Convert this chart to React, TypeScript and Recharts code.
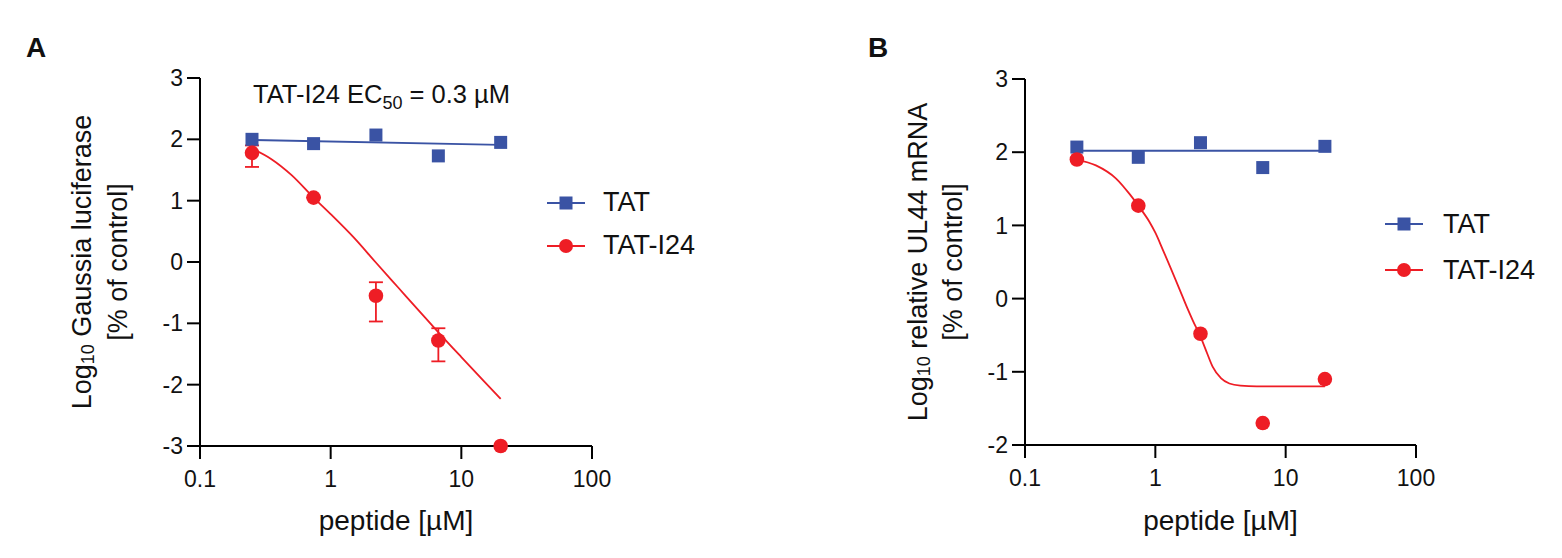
import { ComposedChart, XAxis, YAxis, Scatter, Line, ErrorBar, Legend, Label, Customized } from 'recharts';

const FONT = '"Liberation Sans", Arial, Helvetica, sans-serif';
const BLUE = '#3A53A4';
const RED = '#EE1D25';
const INK = '#111';

const seriesNames = ['TAT', 'TAT-I24'];
const seriesColors = [BLUE, RED];
const concentrations = [0.25, 0.74, 2.22, 6.67, 20];
const xTicks = [0.1, 1, 10, 100];
const yTicksA = [-3, -2, -1, 0, 1, 2, 3];
const yTicksB = [-2, -1, 0, 1, 2, 3];

// panel A - Gaussia luciferase
const tatA = [2.0, 1.93, 2.07, 1.73, 1.95];
const i24A = [1.78, 1.05, -0.55, -1.28, -3.0];
const i24AErrLow = [0.23, 0, 0.42, 0.34, 0];
const i24AErrHigh = [0.12, 0, 0.22, 0.2, 0];
const tatFitXA = [0.25, 20];
const tatFitYA = [1.99, 1.91];
const i24FitXA = [0.25, 0.35, 0.5, 0.74, 1, 1.5, 2.2, 3.3, 5, 6.7, 10, 15, 20];
const i24FitYA = [1.85, 1.68, 1.42, 1.05, 0.78, 0.4, 0.0, -0.42, -0.85, -1.15, -1.55, -1.95, -2.23];

// panel B - UL44 mRNA
const tatB = [2.07, 1.93, 2.13, 1.79, 2.08];
const i24B = [1.9, 1.27, -0.48, -1.7, -1.1];
const tatFitXB = [0.25, 20];
const tatFitYB = [2.02, 2.02];
const i24FitXB = [0.25, 0.35, 0.5, 0.64, 0.74, 0.9, 1.0, 1.14, 1.54, 1.75, 1.94, 2.22, 2.5, 2.75, 3.2, 3.7, 4.5, 6, 10, 20];
const i24FitYB = [1.9, 1.82, 1.64, 1.42, 1.27, 1.05, 0.9, 0.67, 0.12, -0.12, -0.3, -0.52, -0.75, -0.93, -1.09, -1.16, -1.19, -1.2, -1.2, -1.2];

const zip = (xs: number[], ys: number[]) => xs.map((x, i) => ({ x, y: ys[i] }));

const Square = (p: any) => <rect x={p.cx - 6.5} y={p.cy - 6.5} width={13} height={13} fill={BLUE} />;
const Dot = (p: any) => <circle cx={p.cx} cy={p.cy} r={7.3} fill={RED} />;

const LegendBox = ({ rowH, gap }: { rowH: number; gap: number }) => (
  <div style={{ fontFamily: FONT, fontSize: 27, color: INK }}>
    {seriesNames.map((name, i) => (
      <div key={name} style={{ display: 'flex', alignItems: 'center', height: rowH }}>
        <svg width={38} height={20} style={{ display: 'block' }}>
          <line x1={0} x2={38} y1={10} y2={10} stroke={seriesColors[i]} strokeWidth={2} />
          {i === 0 ? <rect x={12.5} y={3.5} width={13} height={13} fill={BLUE} /> : <circle cx={19} cy={10} r={7} fill={RED} />}
        </svg>
        <span style={{ marginLeft: gap }}>{name}</span>
      </div>
    ))}
  </div>
);

const YTitle = ({ viewBox, x1, x2, rest }: any) => {
  const cy = viewBox.y + viewBox.height / 2;
  return (
    <g fontFamily={FONT} fontSize={27} fill={INK}>
      <text x={x1} y={cy} textAnchor="middle" dominantBaseline="central" transform={`rotate(-90 ${x1} ${cy})`}>
        Log<tspan fontSize={18} dy={6}>10</tspan><tspan dy={-6}>{rest}</tspan>
      </text>
      <text x={x2} y={cy} textAnchor="middle" dominantBaseline="central" transform={`rotate(-90 ${x2} ${cy})`}>
        [% of control]
      </text>
    </g>
  );
};

const XTitle = ({ viewBox }: any) => (
  <text x={viewBox.x + viewBox.width / 2} y={530} textAnchor="middle" fontFamily={FONT} fontSize={28} fill={INK}>
    peptide [µM]
  </text>
);

const tickStyle = { fontFamily: FONT, fontSize: 23, fill: INK };

type PanelProps = {
  letter: string;
  letterX: number;
  yTicks: number[];
  margin: { top: number; right: number; bottom: number; left: number };
  tat: number[];
  i24: number[];
  errLow?: number[];
  errHigh?: number[];
  tatFit: { x: number; y: number }[];
  i24Fit: { x: number; y: number }[];
  titleX: [number, number];
  titleRest: string;
  legendPos: { left: number; top: number };
  legendRow: number;
  legendGap: number;
  note?: boolean;
};

const Panel = (p: PanelProps) => {
  const tatPts = zip(concentrations, p.tat);
  const i24Pts = concentrations.map((x, i) => ({
    x,
    y: p.i24[i],
    err: p.errLow && p.errHigh ? [p.errLow[i], p.errHigh[i]] : [0, 0],
  }));
  return (
    <ComposedChart width={781} height={558} margin={p.margin}>
      <XAxis
        dataKey="x"
        type="number"
        scale="log"
        domain={[0.1, 100]}
        ticks={xTicks}
        tickFormatter={(v) => String(v)}
        height={80}
        tickSize={13}
        tickMargin={12}
        axisLine={{ stroke: '#000', strokeWidth: 2 }}
        tickLine={{ stroke: '#000', strokeWidth: 2 }}
        tick={tickStyle}
      >
        <Label content={(lp: any) => <XTitle viewBox={lp.viewBox} />} />
      </XAxis>
      <YAxis
        dataKey="y"
        type="number"
        domain={[p.yTicks[0], p.yTicks[p.yTicks.length - 1]]}
        ticks={p.yTicks}
        width={80}
        tickSize={13}
        tickMargin={4}
        axisLine={{ stroke: '#000', strokeWidth: 2 }}
        tickLine={{ stroke: '#000', strokeWidth: 2 }}
        tick={tickStyle}
      >
        <Label content={(lp: any) => <YTitle viewBox={lp.viewBox} x1={p.titleX[0]} x2={p.titleX[1]} rest={p.titleRest} />} />
      </YAxis>
      <Line data={p.tatFit} dataKey="y" type="linear" stroke={BLUE} strokeWidth={1.8} dot={false} isAnimationActive={false} />
      <Line data={p.i24Fit} dataKey="y" type="monotone" stroke={RED} strokeWidth={1.8} dot={false} isAnimationActive={false} />
      <Scatter data={tatPts} dataKey="y" shape={Square} isAnimationActive={false} />
      <Scatter data={i24Pts} dataKey="y" shape={Dot} isAnimationActive={false}>
        {p.errLow && <ErrorBar dataKey="err" direction="y" width={7} stroke={RED} strokeWidth={1.8} />}
      </Scatter>
      <Legend
        layout="vertical"
        align="center"
        verticalAlign="middle"
        content={() => <LegendBox rowH={p.legendRow} gap={p.legendGap} />}
        wrapperStyle={{ left: p.legendPos.left, top: p.legendPos.top, width: 200 }}
      />
      <Customized
        component={() => (
          <g fontFamily={FONT} fill={INK}>
            <text x={p.letterX} y={57} fontSize={28} fontWeight="bold">{p.letter}</text>
            {p.note && (
              <text x={253} y={103} fontSize={25.5}>
                TAT-I24 EC<tspan fontSize={18} dy={6}>50</tspan><tspan dy={-6}> = 0.3 µM</tspan>
              </text>
            )}
          </g>
        )}
      />
    </ComposedChart>
  );
};

export default function App() {
  return (
    <div style={{ position: 'absolute', left: 0, top: 0, width: 1562, height: 558, background: '#fff' }}>
      <div style={{ position: 'absolute', left: 0, top: 0 }}>
        <Panel
          letter="A"
          letterX={26}
          yTicks={yTicksA}
          margin={{ top: 78, right: 189, bottom: 32, left: 120 }}
          tat={tatA}
          i24={i24A}
          errLow={i24AErrLow}
          errHigh={i24AErrHigh}
          tatFit={zip(tatFitXA, tatFitYA)}
          i24Fit={zip(i24FitXA, i24FitYA)}
          titleX={[82, 118]}
          titleRest=" Gaussia luciferase"
          legendPos={{ left: 547, top: 181 }}
          legendRow={43}
          legendGap={18}
          note
        />
      </div>
      <div style={{ position: 'absolute', left: 781, top: 0 }}>
        <Panel
          letter="B"
          letterX={87}
          yTicks={yTicksB}
          margin={{ top: 79, right: 146, bottom: 33, left: 164 }}
          tat={tatB}
          i24={i24B}
          tatFit={zip(tatFitXB, tatFitYB)}
          i24Fit={zip(i24FitXB, i24FitYB)}
          titleX={[137, 172]}
          titleRest=" relative UL44 mRNA"
          legendPos={{ left: 604, top: 201 }}
          legendRow={46}
          legendGap={20}
        />
      </div>
    </div>
  );
}
